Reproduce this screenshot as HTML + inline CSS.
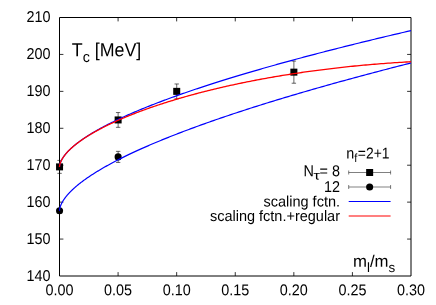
<!DOCTYPE html>
<html><head><meta charset="utf-8"><title>Tc</title>
<style>
html,body{margin:0;padding:0;background:#fff;}
body{width:436px;height:305px;overflow:hidden;font-family:"Liberation Sans",sans-serif;}
svg{display:block;}
text{font-family:"Liberation Sans",sans-serif;fill:#000;}
</style></head><body>
<svg width="436" height="305" viewBox="0 0 436 305" style="will-change:transform">
<rect x="0" y="0" width="436" height="305" fill="#fff"/>
<g stroke="#000" stroke-width="0.8" fill="none"><path d="M59.50,239.07 h3.9 M411.00,239.07 h-3.9"/><path d="M59.50,202.14 h3.9 M411.00,202.14 h-3.9"/><path d="M59.50,165.21 h3.9 M411.00,165.21 h-3.9"/><path d="M59.50,128.29 h3.9 M411.00,128.29 h-3.9"/><path d="M59.50,91.36 h3.9 M411.00,91.36 h-3.9"/><path d="M59.50,54.43 h3.9 M411.00,54.43 h-3.9"/><path d="M118.08,276.00 v-3.9 M118.08,17.50 v3.9"/><path d="M176.67,276.00 v-3.9 M176.67,17.50 v3.9"/><path d="M235.25,276.00 v-3.9 M235.25,17.50 v3.9"/><path d="M293.83,276.00 v-3.9 M293.83,17.50 v3.9"/><path d="M352.42,276.00 v-3.9 M352.42,17.50 v3.9"/></g>
<path d="M59.50,17.50 H411.00 V276.00 H59.50 Z" stroke="#000" stroke-width="1" fill="none"/>
<text transform="translate(50.50,281.00) rotate(0.05) scale(1.0000,1.0900)" font-size="14.4" text-anchor="end">140</text>
<text transform="translate(50.50,244.00) rotate(0.05) scale(1.0000,1.0900)" font-size="14.4" text-anchor="end">150</text>
<text transform="translate(50.50,207.00) rotate(0.05) scale(1.0000,1.0900)" font-size="14.4" text-anchor="end">160</text>
<text transform="translate(50.50,170.00) rotate(0.05) scale(1.0000,1.0900)" font-size="14.4" text-anchor="end">170</text>
<text transform="translate(50.50,133.00) rotate(0.05) scale(1.0000,1.0900)" font-size="14.4" text-anchor="end">180</text>
<text transform="translate(50.50,96.00) rotate(0.05) scale(1.0000,1.0900)" font-size="14.4" text-anchor="end">190</text>
<text transform="translate(50.50,59.00) rotate(0.05) scale(1.0000,1.0900)" font-size="14.4" text-anchor="end">200</text>
<text transform="translate(50.50,22.00) rotate(0.05) scale(1.0000,1.0900)" font-size="14.4" text-anchor="end">210</text>
<text transform="translate(59.50,295.20) rotate(0.05) scale(1.0000,1.0900)" font-size="14.4" text-anchor="middle">0.00</text>
<text transform="translate(118.08,295.20) rotate(0.05) scale(1.0000,1.0900)" font-size="14.4" text-anchor="middle">0.05</text>
<text transform="translate(176.67,295.20) rotate(0.05) scale(1.0000,1.0900)" font-size="14.4" text-anchor="middle">0.10</text>
<text transform="translate(235.25,295.20) rotate(0.05) scale(1.0000,1.0900)" font-size="14.4" text-anchor="middle">0.15</text>
<text transform="translate(293.83,295.20) rotate(0.05) scale(1.0000,1.0900)" font-size="14.4" text-anchor="middle">0.20</text>
<text transform="translate(352.42,295.20) rotate(0.05) scale(1.0000,1.0900)" font-size="14.4" text-anchor="middle">0.25</text>
<text transform="translate(411.00,295.20) rotate(0.05) scale(1.0000,1.0900)" font-size="14.4" text-anchor="middle">0.30</text>
<text transform="translate(71.80,56.20) rotate(0.05) scale(1.0300,1.0900)" font-size="17.3" text-anchor="start">T<tspan font-size="13.8" dy="5.4">c</tspan><tspan dy="-5.4"> [MeV]</tspan></text>
<text transform="translate(353.00,266.80) rotate(0.05) scale(0.9700,0.9650)" font-size="17.3" text-anchor="start">m<tspan font-size="13.8" dy="5.4">l</tspan><tspan dy="-5.4">/m</tspan><tspan font-size="13.8" dy="5.4">s</tspan></text>
<path d="M59.55,160.41 V173.34 M57.35,160.41 h4.4 M57.35,173.34 h4.4" stroke="#000" stroke-width="0.6" fill="none"/><rect x="56.05" y="163.38" width="7" height="7" fill="#000"/>
<path d="M118.13,112.55 V127.33 M115.93,112.55 h4.4 M115.93,127.33 h4.4" stroke="#000" stroke-width="0.6" fill="none"/><rect x="114.63" y="116.44" width="7" height="7" fill="#000"/>
<path d="M176.72,83.97 V98.74 M174.52,83.97 h4.4 M174.52,98.74 h4.4" stroke="#000" stroke-width="0.6" fill="none"/><rect x="173.22" y="87.86" width="7" height="7" fill="#000"/>
<path d="M293.88,61.08 V83.23 M291.68,61.08 h4.4 M291.68,83.23 h4.4" stroke="#000" stroke-width="0.6" fill="none"/><rect x="290.38" y="68.65" width="7" height="7" fill="#000"/>
<path d="M59.55,208.57 V213.00 M57.35,208.57 h4.4 M57.35,213.00 h4.4" stroke="#000" stroke-width="0.6" fill="none"/><circle cx="59.55" cy="210.78" r="3.55" fill="#000"/>
<path d="M118.13,151.37 V162.44 M115.93,151.37 h4.4 M115.93,162.44 h4.4" stroke="#000" stroke-width="0.6" fill="none"/><circle cx="118.13" cy="156.91" r="3.55" fill="#000"/>
<path d="M59.50,167.10 L59.50,166.90 L59.52,166.66 L59.54,166.40 L59.56,166.13 L59.60,165.86 L59.64,165.57 L59.69,165.28 L59.75,164.98 L59.82,164.68 L59.89,164.38 L59.97,164.07 L60.06,163.75 L60.16,163.43 L60.27,163.11 L60.38,162.79 L60.50,162.46 L60.63,162.13 L60.77,161.80 L60.91,161.46 L61.06,161.12 L61.22,160.78 L61.39,160.44 L61.57,160.09 L61.75,159.74 L61.94,159.39 L62.14,159.04 L62.35,158.69 L62.56,158.33 L62.78,157.98 L63.02,157.62 L63.25,157.26 L63.50,156.89 L63.75,156.53 L64.01,156.16 L64.28,155.80 L64.56,155.43 L64.85,155.06 L65.14,154.69 L65.44,154.31 L65.75,153.94 L66.07,153.56 L66.39,153.18 L66.72,152.80 L67.06,152.42 L67.41,152.04 L67.76,151.66 L68.13,151.27 L68.50,150.89 L68.88,150.50 L69.26,150.11 L69.66,149.72 L70.06,149.33 L70.47,148.94 L70.89,148.55 L71.31,148.16 L71.75,147.76 L72.19,147.36 L72.64,146.97 L73.10,146.57 L73.56,146.17 L74.03,145.77 L74.51,145.37 L75.00,144.97 L75.50,144.56 L76.00,144.16 L76.51,143.75 L77.03,143.35 L77.56,142.94 L78.09,142.53 L78.64,142.12 L79.19,141.71 L79.75,141.30 L80.31,140.89 L80.89,140.47 L81.47,140.06 L82.06,139.64 L82.66,139.23 L83.26,138.81 L83.87,138.39 L84.50,137.97 L85.12,137.55 L85.76,137.13 L86.41,136.71 L87.06,136.29 L87.72,135.87 L88.39,135.44 L89.06,135.02 L89.74,134.59 L90.44,134.17 L91.13,133.74 L91.84,133.31 L92.56,132.88 L93.28,132.45 L94.01,132.02 L94.75,131.59 L95.49,131.16 L96.25,130.73 L97.01,130.29 L97.78,129.86 L98.56,129.43 L99.34,128.99 L100.13,128.55 L100.93,128.12 L101.74,127.68 L102.56,127.24 L103.38,126.80 L104.21,126.36 L105.05,125.92 L105.90,125.48 L106.76,125.04 L107.62,124.59 L108.49,124.15 L109.37,123.70 L110.26,123.26 L111.15,122.81 L112.05,122.37 L112.96,121.92 L113.88,121.47 L114.81,121.02 L115.74,120.57 L116.68,120.12 L117.63,119.67 L118.59,119.22 L119.55,118.77 L120.52,118.32 L121.50,117.86 L122.49,117.41 L123.49,116.95 L124.49,116.50 L125.50,116.04 L126.52,115.59 L127.55,115.13 L128.59,114.67 L129.63,114.21 L130.68,113.75 L131.74,113.29 L132.80,112.83 L133.88,112.37 L134.96,111.91 L136.05,111.45 L137.15,110.98 L138.25,110.52 L139.36,110.06 L140.49,109.59 L141.61,109.13 L142.75,108.66 L143.90,108.19 L145.05,107.73 L146.21,107.26 L147.38,106.79 L148.55,106.32 L149.73,105.85 L150.93,105.38 L152.12,104.91 L153.33,104.44 L154.55,103.97 L155.77,103.49 L157.00,103.02 L158.24,102.55 L159.48,102.07 L160.74,101.60 L162.00,101.12 L163.27,100.65 L164.54,100.17 L165.83,99.69 L167.12,99.21 L168.42,98.74 L169.73,98.26 L171.05,97.78 L172.37,97.30 L173.70,96.82 L175.04,96.34 L176.39,95.85 L177.74,95.37 L179.11,94.89 L180.48,94.41 L181.86,93.92 L183.24,93.44 L184.64,92.95 L186.04,92.47 L187.45,91.98 L188.87,91.49 L190.29,91.01 L191.73,90.52 L193.17,90.03 L194.62,89.54 L196.07,89.05 L197.54,88.56 L199.01,88.07 L200.49,87.58 L201.98,87.09 L203.47,86.60 L204.98,86.10 L206.49,85.61 L208.01,85.12 L209.54,84.62 L211.07,84.13 L212.61,83.63 L214.16,83.14 L215.72,82.64 L217.29,82.15 L218.86,81.65 L220.44,81.15 L222.03,80.65 L223.63,80.15 L225.24,79.65 L226.85,79.15 L228.47,78.65 L230.10,78.15 L231.73,77.65 L233.38,77.15 L235.03,76.65 L236.69,76.15 L238.36,75.64 L240.03,75.14 L241.72,74.63 L243.41,74.13 L245.11,73.62 L246.81,73.12 L248.53,72.61 L250.25,72.10 L251.98,71.60 L253.72,71.09 L255.47,70.58 L257.22,70.07 L258.98,69.56 L260.75,69.05 L262.53,68.54 L264.31,68.03 L266.10,67.52 L267.90,67.01 L269.71,66.50 L271.53,65.99 L273.35,65.47 L275.18,64.96 L277.02,64.45 L278.87,63.93 L280.73,63.42 L282.59,62.90 L284.46,62.38 L286.34,61.87 L288.22,61.35 L290.12,60.83 L292.02,60.32 L293.93,59.80 L295.85,59.28 L297.77,58.76 L299.71,58.24 L301.65,57.72 L303.60,57.20 L305.55,56.68 L307.52,56.16 L309.49,55.63 L311.47,55.11 L313.46,54.59 L315.45,54.07 L317.46,53.54 L319.47,53.02 L321.49,52.49 L323.52,51.97 L325.55,51.44 L327.59,50.92 L329.64,50.39 L331.70,49.86 L333.77,49.33 L335.84,48.81 L337.92,48.28 L340.01,47.75 L342.11,47.22 L344.22,46.69 L346.33,46.16 L348.45,45.63 L350.58,45.10 L352.71,44.57 L354.86,44.04 L357.01,43.50 L359.17,42.97 L361.34,42.44 L363.51,41.90 L365.70,41.37 L367.89,40.83 L370.09,40.30 L372.29,39.76 L374.51,39.23 L376.73,38.69 L378.96,38.15 L381.20,37.62 L383.44,37.08 L385.70,36.54 L387.96,36.00 L390.23,35.46 L392.50,34.92 L394.79,34.38 L397.08,33.84 L399.38,33.30 L401.69,32.76 L404.01,32.22 L406.33,31.68 L408.66,31.14 L411.00,30.59" stroke="#0000ff" stroke-width="1.2" fill="none"/>
<path d="M59.50,210.78 L59.50,210.59 L59.52,210.35 L59.54,210.09 L59.56,209.82 L59.60,209.54 L59.64,209.25 L59.69,208.95 L59.75,208.64 L59.82,208.33 L59.89,208.01 L59.97,207.69 L60.06,207.36 L60.16,207.03 L60.27,206.70 L60.38,206.36 L60.50,206.02 L60.63,205.67 L60.77,205.32 L60.91,204.97 L61.06,204.61 L61.22,204.25 L61.39,203.89 L61.57,203.53 L61.75,203.16 L61.94,202.79 L62.14,202.42 L62.35,202.05 L62.56,201.67 L62.78,201.29 L63.02,200.91 L63.25,200.53 L63.50,200.15 L63.75,199.76 L64.01,199.37 L64.28,198.98 L64.56,198.59 L64.85,198.19 L65.14,197.80 L65.44,197.40 L65.75,197.00 L66.07,196.60 L66.39,196.20 L66.72,195.79 L67.06,195.39 L67.41,194.98 L67.76,194.57 L68.13,194.16 L68.50,193.75 L68.88,193.33 L69.26,192.92 L69.66,192.50 L70.06,192.09 L70.47,191.67 L70.89,191.25 L71.31,190.82 L71.75,190.40 L72.19,189.98 L72.64,189.55 L73.10,189.12 L73.56,188.69 L74.03,188.26 L74.51,187.83 L75.00,187.40 L75.50,186.97 L76.00,186.53 L76.51,186.10 L77.03,185.66 L77.56,185.22 L78.09,184.78 L78.64,184.34 L79.19,183.90 L79.75,183.46 L80.31,183.01 L80.89,182.57 L81.47,182.12 L82.06,181.68 L82.66,181.23 L83.26,180.78 L83.87,180.33 L84.50,179.88 L85.12,179.43 L85.76,178.97 L86.41,178.52 L87.06,178.06 L87.72,177.61 L88.39,177.15 L89.06,176.69 L89.74,176.23 L90.44,175.77 L91.13,175.31 L91.84,174.85 L92.56,174.38 L93.28,173.92 L94.01,173.46 L94.75,172.99 L95.49,172.52 L96.25,172.05 L97.01,171.59 L97.78,171.12 L98.56,170.65 L99.34,170.17 L100.13,169.70 L100.93,169.23 L101.74,168.76 L102.56,168.28 L103.38,167.81 L104.21,167.33 L105.05,166.85 L105.90,166.37 L106.76,165.89 L107.62,165.41 L108.49,164.93 L109.37,164.45 L110.26,163.97 L111.15,163.49 L112.05,163.00 L112.96,162.52 L113.88,162.03 L114.81,161.55 L115.74,161.06 L116.68,160.57 L117.63,160.08 L118.59,159.59 L119.55,159.10 L120.52,158.61 L121.50,158.12 L122.49,157.63 L123.49,157.13 L124.49,156.64 L125.50,156.14 L126.52,155.65 L127.55,155.15 L128.59,154.65 L129.63,154.16 L130.68,153.66 L131.74,153.16 L132.80,152.66 L133.88,152.16 L134.96,151.66 L136.05,151.15 L137.15,150.65 L138.25,150.15 L139.36,149.64 L140.49,149.14 L141.61,148.63 L142.75,148.12 L143.90,147.62 L145.05,147.11 L146.21,146.60 L147.38,146.09 L148.55,145.58 L149.73,145.07 L150.93,144.56 L152.12,144.05 L153.33,143.53 L154.55,143.02 L155.77,142.51 L157.00,141.99 L158.24,141.48 L159.48,140.96 L160.74,140.44 L162.00,139.93 L163.27,139.41 L164.54,138.89 L165.83,138.37 L167.12,137.85 L168.42,137.33 L169.73,136.81 L171.05,136.29 L172.37,135.76 L173.70,135.24 L175.04,134.72 L176.39,134.19 L177.74,133.67 L179.11,133.14 L180.48,132.61 L181.86,132.09 L183.24,131.56 L184.64,131.03 L186.04,130.50 L187.45,129.97 L188.87,129.44 L190.29,128.91 L191.73,128.38 L193.17,127.85 L194.62,127.32 L196.07,126.78 L197.54,126.25 L199.01,125.71 L200.49,125.18 L201.98,124.64 L203.47,124.11 L204.98,123.57 L206.49,123.03 L208.01,122.49 L209.54,121.96 L211.07,121.42 L212.61,120.88 L214.16,120.34 L215.72,119.79 L217.29,119.25 L218.86,118.71 L220.44,118.17 L222.03,117.62 L223.63,117.08 L225.24,116.54 L226.85,115.99 L228.47,115.45 L230.10,114.90 L231.73,114.35 L233.38,113.80 L235.03,113.26 L236.69,112.71 L238.36,112.16 L240.03,111.61 L241.72,111.06 L243.41,110.51 L245.11,109.96 L246.81,109.41 L248.53,108.85 L250.25,108.30 L251.98,107.75 L253.72,107.19 L255.47,106.64 L257.22,106.08 L258.98,105.53 L260.75,104.97 L262.53,104.41 L264.31,103.86 L266.10,103.30 L267.90,102.74 L269.71,102.18 L271.53,101.62 L273.35,101.06 L275.18,100.50 L277.02,99.94 L278.87,99.38 L280.73,98.81 L282.59,98.25 L284.46,97.69 L286.34,97.12 L288.22,96.56 L290.12,96.00 L292.02,95.43 L293.93,94.86 L295.85,94.30 L297.77,93.73 L299.71,93.16 L301.65,92.60 L303.60,92.03 L305.55,91.46 L307.52,90.89 L309.49,90.32 L311.47,89.75 L313.46,89.18 L315.45,88.60 L317.46,88.03 L319.47,87.46 L321.49,86.89 L323.52,86.31 L325.55,85.74 L327.59,85.16 L329.64,84.59 L331.70,84.01 L333.77,83.44 L335.84,82.86 L337.92,82.28 L340.01,81.70 L342.11,81.13 L344.22,80.55 L346.33,79.97 L348.45,79.39 L350.58,78.81 L352.71,78.23 L354.86,77.65 L357.01,77.06 L359.17,76.48 L361.34,75.90 L363.51,75.32 L365.70,74.73 L367.89,74.15 L370.09,73.56 L372.29,72.98 L374.51,72.39 L376.73,71.81 L378.96,71.22 L381.20,70.63 L383.44,70.04 L385.70,69.46 L387.96,68.87 L390.23,68.28 L392.50,67.69 L394.79,67.10 L397.08,66.51 L399.38,65.92 L401.69,65.33 L404.01,64.73 L406.33,64.14 L408.66,63.55 L411.00,62.95" stroke="#0000ff" stroke-width="1.2" fill="none"/>
<path d="M59.50,167.10 L59.50,166.90 L59.52,166.66 L59.54,166.40 L59.56,166.13 L59.60,165.86 L59.64,165.57 L59.69,165.28 L59.75,164.98 L59.82,164.68 L59.89,164.38 L59.97,164.07 L60.06,163.75 L60.16,163.43 L60.27,163.11 L60.38,162.79 L60.50,162.46 L60.63,162.13 L60.77,161.80 L60.91,161.46 L61.06,161.12 L61.22,160.78 L61.39,160.44 L61.57,160.09 L61.75,159.75 L61.94,159.40 L62.14,159.04 L62.35,158.69 L62.56,158.34 L62.78,157.98 L63.02,157.62 L63.25,157.26 L63.50,156.90 L63.75,156.53 L64.01,156.17 L64.28,155.80 L64.56,155.43 L64.85,155.06 L65.14,154.69 L65.44,154.32 L65.75,153.95 L66.07,153.57 L66.39,153.19 L66.72,152.82 L67.06,152.44 L67.41,152.06 L67.76,151.68 L68.13,151.29 L68.50,150.91 L68.88,150.52 L69.26,150.14 L69.66,149.75 L70.06,149.36 L70.47,148.97 L70.89,148.58 L71.31,148.19 L71.75,147.80 L72.19,147.41 L72.64,147.01 L73.10,146.62 L73.56,146.22 L74.03,145.82 L74.51,145.42 L75.00,145.03 L75.50,144.63 L76.00,144.23 L76.51,143.82 L77.03,143.42 L77.56,143.02 L78.09,142.62 L78.64,142.21 L79.19,141.81 L79.75,141.40 L80.31,140.99 L80.89,140.59 L81.47,140.18 L82.06,139.77 L82.66,139.36 L83.26,138.95 L83.87,138.54 L84.50,138.13 L85.12,137.72 L85.76,137.31 L86.41,136.89 L87.06,136.48 L87.72,136.07 L88.39,135.65 L89.06,135.24 L89.74,134.82 L90.44,134.41 L91.13,133.99 L91.84,133.58 L92.56,133.16 L93.28,132.74 L94.01,132.32 L94.75,131.91 L95.49,131.49 L96.25,131.07 L97.01,130.65 L97.78,130.23 L98.56,129.81 L99.34,129.39 L100.13,128.97 L100.93,128.55 L101.74,128.13 L102.56,127.71 L103.38,127.29 L104.21,126.86 L105.05,126.44 L105.90,126.02 L106.76,125.60 L107.62,125.18 L108.49,124.75 L109.37,124.33 L110.26,123.91 L111.15,123.49 L112.05,123.06 L112.96,122.64 L113.88,122.22 L114.81,121.79 L115.74,121.37 L116.68,120.95 L117.63,120.52 L118.59,120.10 L119.55,119.68 L120.52,119.25 L121.50,118.83 L122.49,118.41 L123.49,117.99 L124.49,117.56 L125.50,117.14 L126.52,116.72 L127.55,116.30 L128.59,115.87 L129.63,115.45 L130.68,115.03 L131.74,114.61 L132.80,114.19 L133.88,113.77 L134.96,113.35 L136.05,112.92 L137.15,112.50 L138.25,112.08 L139.36,111.66 L140.49,111.24 L141.61,110.83 L142.75,110.41 L143.90,109.99 L145.05,109.57 L146.21,109.15 L147.38,108.74 L148.55,108.32 L149.73,107.90 L150.93,107.49 L152.12,107.07 L153.33,106.66 L154.55,106.24 L155.77,105.83 L157.00,105.42 L158.24,105.00 L159.48,104.59 L160.74,104.18 L162.00,103.77 L163.27,103.36 L164.54,102.95 L165.83,102.54 L167.12,102.13 L168.42,101.73 L169.73,101.32 L171.05,100.91 L172.37,100.51 L173.70,100.10 L175.04,99.70 L176.39,99.30 L177.74,98.90 L179.11,98.49 L180.48,98.09 L181.86,97.69 L183.24,97.30 L184.64,96.90 L186.04,96.50 L187.45,96.11 L188.87,95.71 L190.29,95.32 L191.73,94.93 L193.17,94.53 L194.62,94.14 L196.07,93.75 L197.54,93.36 L199.01,92.98 L200.49,92.59 L201.98,92.21 L203.47,91.82 L204.98,91.44 L206.49,91.06 L208.01,90.68 L209.54,90.30 L211.07,89.92 L212.61,89.54 L214.16,89.17 L215.72,88.79 L217.29,88.42 L218.86,88.05 L220.44,87.68 L222.03,87.31 L223.63,86.94 L225.24,86.58 L226.85,86.21 L228.47,85.85 L230.10,85.49 L231.73,85.13 L233.38,84.77 L235.03,84.41 L236.69,84.06 L238.36,83.71 L240.03,83.35 L241.72,83.00 L243.41,82.65 L245.11,82.31 L246.81,81.96 L248.53,81.62 L250.25,81.28 L251.98,80.94 L253.72,80.60 L255.47,80.26 L257.22,79.93 L258.98,79.59 L260.75,79.26 L262.53,78.93 L264.31,78.61 L266.10,78.28 L267.90,77.96 L269.71,77.64 L271.53,77.32 L273.35,77.00 L275.18,76.68 L277.02,76.37 L278.87,76.06 L280.73,75.75 L282.59,75.44 L284.46,75.14 L286.34,74.84 L288.22,74.54 L290.12,74.24 L292.02,73.94 L293.93,73.65 L295.85,73.36 L297.77,73.07 L299.71,72.78 L301.65,72.50 L303.60,72.22 L305.55,71.94 L307.52,71.66 L309.49,71.39 L311.47,71.11 L313.46,70.85 L315.45,70.58 L317.46,70.31 L319.47,70.05 L321.49,69.79 L323.52,69.54 L325.55,69.28 L327.59,69.03 L329.64,68.78 L331.70,68.54 L333.77,68.30 L335.84,68.06 L337.92,67.82 L340.01,67.58 L342.11,67.35 L344.22,67.12 L346.33,66.90 L348.45,66.67 L350.58,66.45 L352.71,66.24 L354.86,66.02 L357.01,65.81 L359.17,65.61 L361.34,65.40 L363.51,65.20 L365.70,65.00 L367.89,64.81 L370.09,64.61 L372.29,64.42 L374.51,64.24 L376.73,64.06 L378.96,63.88 L381.20,63.70 L383.44,63.53 L385.70,63.36 L387.96,63.20 L390.23,63.03 L392.50,62.88 L394.79,62.72 L397.08,62.57 L399.38,62.42 L401.69,62.28 L404.01,62.14 L406.33,62.00 L408.66,61.87 L411.00,61.74" stroke="#ff0000" stroke-width="1.3" fill="none"/>
<text transform="translate(346.30,158.50) rotate(0.05) scale(1.0000,1.0900)" font-size="14.4" text-anchor="start">n<tspan font-size="11" dy="3.3">f</tspan></text>
<text transform="translate(389.50,158.50) rotate(0.05) scale(0.9650,1.0900)" font-size="14.4" text-anchor="end">=2+1</text>
<text transform="translate(303.50,176.20) rotate(0.05) scale(1.0000,1.1000)" font-size="14.4" text-anchor="start">N</text>
<text transform="translate(313.60,179.50) rotate(0.05) scale(1.3000,1.0000)" font-size="12.5" text-anchor="start">τ</text>
<text transform="translate(340.00,176.20) rotate(0.05) scale(1.0000,1.1000)" font-size="14.4" text-anchor="end">= 8</text>
<text transform="translate(340.00,192.00) rotate(0.05) scale(1.0000,1.0900)" font-size="14.4" text-anchor="end">12</text>
<text transform="translate(340.00,206.50) rotate(0.05) scale(1.0080,1.0450)" font-size="14.4" text-anchor="end">scaling fctn.</text>
<text transform="translate(340.00,221.00) rotate(0.05) scale(1.0070,1.0450)" font-size="14.4" text-anchor="end">scaling fctn.+regular</text>
<path d="M348.70,172.50 H390.60 M348.70,170.50 v4 M390.60,170.50 v4" stroke="#000" stroke-width="0.5" fill="none"/>
<path d="M348.70,187.00 H390.60 M348.70,185.00 v4 M390.60,185.00 v4" stroke="#000" stroke-width="0.5" fill="none"/>
<rect x="366.15" y="169.00" width="7" height="7" fill="#000"/>
<circle cx="369.65" cy="187.0" r="3.55" fill="#000"/>
<path d="M348.70,201.5 H390.60" stroke="#0000ff" stroke-width="1.05"/>
<path d="M348.70,216.0 H390.60" stroke="#ff0000" stroke-width="1.2"/>
</svg></body></html>
